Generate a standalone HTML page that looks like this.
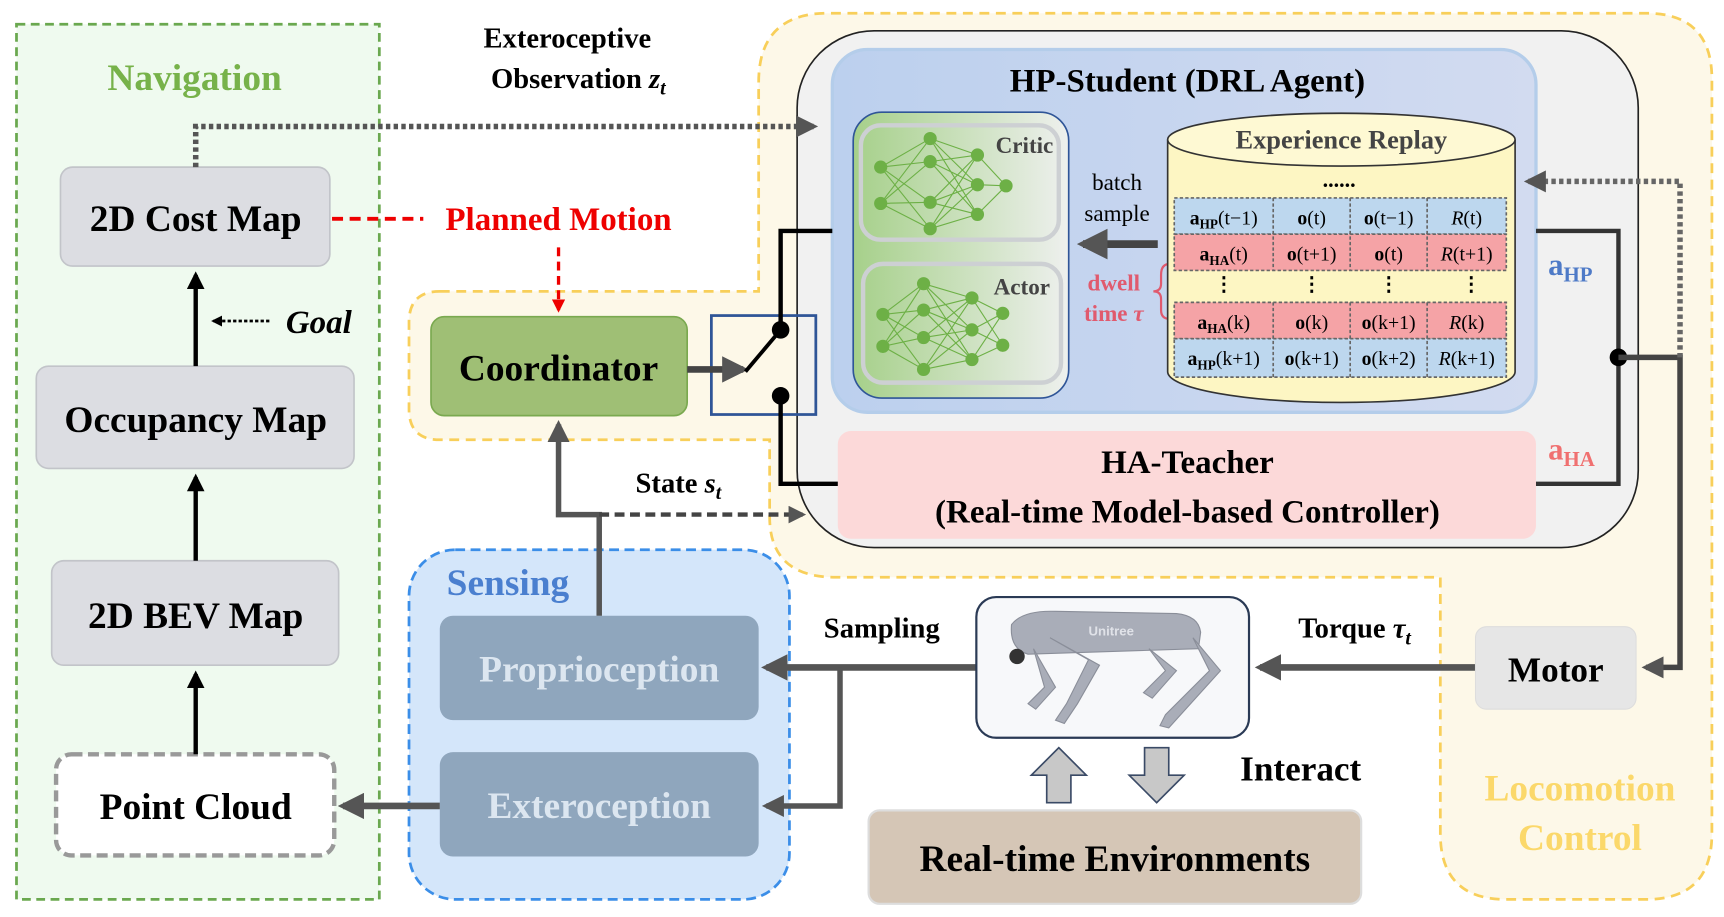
<!DOCTYPE html>
<html><head><meta charset="utf-8"><style>
html,body{margin:0;padding:0;background:#fff;}
svg{display:block;}
text{font-family:"Liberation Serif",serif;font-weight:bold;}
</style></head><body>
<svg width="1724" height="917" viewBox="0 0 1568 834" preserveAspectRatio="none" xmlns="http://www.w3.org/2000/svg">
<defs>
<marker id="ah" viewBox="0 0 10 10" refX="8" refY="5" markerWidth="4" markerHeight="4" orient="auto"><path d="M0,0L10,5L0,10z" fill="#555"/></marker>
<marker id="ahb" viewBox="0 0 10 10" refX="8" refY="5" markerWidth="4" markerHeight="4" orient="auto"><path d="M0,0L10,5L0,10z" fill="#000"/></marker>
<marker id="ahr" viewBox="0 0 10 10" refX="8" refY="5" markerWidth="4" markerHeight="4" orient="auto"><path d="M0,0L10,5L0,10z" fill="#e00"/></marker>
<linearGradient id="gnn" x1="0" x2="1"><stop offset="0" stop-color="#a6d08a"/><stop offset="1" stop-color="#eef0ee"/></linearGradient>
<linearGradient id="ghp" x1="0" x2="1"><stop offset="0" stop-color="#bcd0ee"/><stop offset="1" stop-color="#d2dbf0"/></linearGradient>
</defs>

<rect x="15" y="22" width="330" height="796" fill="#effaef" stroke="#6aa84f" stroke-width="2.5" stroke-dasharray="8 5"/>
<text x="177" y="82" font-size="34" fill="#77b24a" text-anchor="middle">Navigation</text>

<path d="M400,265 L690,265 L690,75 Q690,12 753,12 L1497,12 Q1557,12 1557,72 L1557,758 Q1557,818 1497,818 L1370,818 Q1310,818 1310,758 L1310,525 L760,525 Q700,525 700,470 L700,400 L400,400 Q372,400 372,372 L372,293 Q372,265 400,265 Z" fill="#fdf8e8" stroke="#f8cf5a" stroke-width="2.5" stroke-dasharray="9 6"/>
<text x="1437" y="728" font-size="34" fill="#fbd86a" text-anchor="middle">Locomotion</text>
<text x="1437" y="773" font-size="34" fill="#fbd86a" text-anchor="middle">Control</text>

<rect x="725" y="28" width="765" height="470" rx="70" fill="#f1f1f1" stroke="#222" stroke-width="1.5"/>
<rect x="757" y="45" width="640" height="330" rx="32" fill="url(#ghp)" stroke="#b4cdea" stroke-width="3"/>
<text x="1080" y="83" font-size="30" text-anchor="middle">HP-Student (DRL Agent)</text>

<rect x="776" y="102" width="196" height="260" rx="26" fill="url(#gnn)" stroke="#2f5597" stroke-width="1.5"/>
<rect x="783" y="114" width="180" height="104" rx="18" fill="none" stroke="#cdd0d3" stroke-width="4"/>
<rect x="785" y="240" width="180" height="108" rx="18" fill="none" stroke="#cdd0d3" stroke-width="4"/>
<text x="958" y="139" font-size="21" fill="#444" text-anchor="end">Critic</text>
<text x="955" y="268" font-size="21" fill="#444" text-anchor="end">Actor</text>
<g stroke="#6db046" stroke-width="1">
<path d="M801,152L846,126M801,152L846,147M801,152L846,184M801,152L846,208M801,185L846,126M801,185L846,147M801,185L846,184M801,185L846,208M846,126L889,141M846,126L889,168M846,126L889,195M846,147L889,141M846,147L889,168M846,147L889,195M846,184L889,141M846,184L889,168M846,184L889,195M846,208L889,141M846,208L889,168M846,208L889,195M889,141L915,169M889,168L915,169M889,195L915,169"/>
<path d="M803,286L840,258M803,286L840,282M803,286L840,307M803,286L840,336M803,315L840,258M803,315L840,282M803,315L840,307M803,315L840,336M840,258L884,271M840,258L884,300M840,258L884,327M840,282L884,271M840,282L884,300M840,282L884,327M840,307L884,271M840,307L884,300M840,307L884,327M840,336L884,271M840,336L884,300M840,336L884,327M884,271L912,285M884,271L912,314M884,300L912,285M884,300L912,314M884,327L912,285M884,327L912,314"/>
</g>
<g fill="#6db046">
<circle cx="801" cy="152" r="6"/><circle cx="801" cy="185" r="6"/><circle cx="846" cy="126" r="6"/><circle cx="846" cy="147" r="6"/><circle cx="846" cy="184" r="6"/><circle cx="846" cy="208" r="6"/><circle cx="889" cy="141" r="6"/><circle cx="889" cy="168" r="6"/><circle cx="889" cy="195" r="6"/><circle cx="915" cy="169" r="6"/>
<circle cx="803" cy="286" r="6"/><circle cx="803" cy="315" r="6"/><circle cx="840" cy="258" r="6"/><circle cx="840" cy="282" r="6"/><circle cx="840" cy="307" r="6"/><circle cx="840" cy="336" r="6"/><circle cx="884" cy="271" r="6"/><circle cx="884" cy="300" r="6"/><circle cx="884" cy="327" r="6"/><circle cx="912" cy="285" r="6"/><circle cx="912" cy="314" r="6"/>
</g>

<text x="1016" y="173" font-size="21" style="font-weight:normal" text-anchor="middle">batch</text>
<text x="1016" y="201" font-size="21" style="font-weight:normal" text-anchor="middle">sample</text>
<line x1="1053" y1="222" x2="985" y2="222" stroke="#444" stroke-width="7" marker-end="url(#ah)"/>
<text x="1013" y="264" font-size="21" fill="#e05a6e" text-anchor="middle">dwell</text>
<text x="1013" y="292" font-size="21" fill="#e05a6e" text-anchor="middle">time <tspan font-style="italic">τ</tspan></text>
<path d="M1064,240 Q1056,240 1056,250 L1056,258 Q1056,265 1049,265 Q1056,265 1056,272 L1056,282 Q1056,290 1064,290" fill="none" stroke="#e05a6e" stroke-width="2"/>

<path d="M1062,127 L1062,338 A158,28 0 0 0 1378,338 L1378,127" fill="#fdf6c3" stroke="#333" stroke-width="1.5"/>
<ellipse cx="1220" cy="127" rx="158" ry="24" fill="#fef9d3" stroke="#333" stroke-width="1.5"/>
<text x="1220" y="135" font-size="24" fill="#444" text-anchor="middle">Experience Replay</text>
<text x="1218" y="170" font-size="20" text-anchor="middle">......</text>
<g stroke="#666" stroke-width="1.5" stroke-dasharray="3 2">
<rect x="1068" y="180" width="302" height="33" fill="#bdd7ee"/>
<rect x="1068" y="213" width="302" height="33" fill="#f5a3a6"/>
<rect x="1068" y="275" width="302" height="33" fill="#f5a3a6"/>
<rect x="1068" y="308" width="302" height="35" fill="#bdd7ee"/>
<path d="M1158,180V246M1228,180V246M1298,180V246M1158,275V343M1228,275V343M1298,275V343" fill="none"/>
</g>
<g font-size="18" text-anchor="middle">
<text x="1113" y="204" style="font-weight:normal"><tspan font-weight="bold">a</tspan><tspan font-size="12" dy="4" font-weight="bold">HP</tspan><tspan dy="-4">(t−1)</tspan></text>
<text x="1193" y="204" style="font-weight:normal"><tspan font-weight="bold">o</tspan>(t)</text>
<text x="1263" y="204" style="font-weight:normal"><tspan font-weight="bold">o</tspan>(t−1)</text>
<text x="1334" y="204" style="font-weight:normal"><tspan font-style="italic">R</tspan>(t)</text>
<text x="1113" y="237" style="font-weight:normal"><tspan font-weight="bold">a</tspan><tspan font-size="12" dy="4" font-weight="bold">HA</tspan><tspan dy="-4">(t)</tspan></text>
<text x="1193" y="237" style="font-weight:normal"><tspan font-weight="bold">o</tspan>(t+1)</text>
<text x="1263" y="237" style="font-weight:normal"><tspan font-weight="bold">o</tspan>(t)</text>
<text x="1334" y="237" style="font-weight:normal"><tspan font-style="italic">R</tspan>(t+1)</text>
<text x="1113" y="264">⋮</text><text x="1193" y="264">⋮</text><text x="1263" y="264">⋮</text><text x="1338" y="264">⋮</text>
<text x="1113" y="299" style="font-weight:normal"><tspan font-weight="bold">a</tspan><tspan font-size="12" dy="4" font-weight="bold">HA</tspan><tspan dy="-4">(k)</tspan></text>
<text x="1193" y="299" style="font-weight:normal"><tspan font-weight="bold">o</tspan>(k)</text>
<text x="1263" y="299" style="font-weight:normal"><tspan font-weight="bold">o</tspan>(k+1)</text>
<text x="1334" y="299" style="font-weight:normal"><tspan font-style="italic">R</tspan>(k)</text>
<text x="1113" y="332" style="font-weight:normal"><tspan font-weight="bold">a</tspan><tspan font-size="12" dy="4" font-weight="bold">HP</tspan><tspan dy="-4">(k+1)</tspan></text>
<text x="1193" y="332" style="font-weight:normal"><tspan font-weight="bold">o</tspan>(k+1)</text>
<text x="1263" y="332" style="font-weight:normal"><tspan font-weight="bold">o</tspan>(k+2)</text>
<text x="1334" y="332" style="font-weight:normal"><tspan font-style="italic">R</tspan>(k+1)</text>
</g>

<rect x="762" y="392" width="635" height="98" rx="12" fill="#fcd9d9"/>
<text x="1080" y="430" font-size="30" text-anchor="middle">HA-Teacher</text>
<text x="1080" y="475" font-size="30" text-anchor="middle">(Real-time Model-based Controller)</text>

<text x="1408" y="250" font-size="28" fill="#4e7ac7">a<tspan font-size="19" dy="6">HP</tspan></text>
<text x="1408" y="418" font-size="28" fill="#f07070">a<tspan font-size="19" dy="6">HA</tspan></text>

<path d="M1397,210 H1472 V440 H1397" fill="none" stroke="#333" stroke-width="4"/>
<circle cx="1472" cy="325" r="8" fill="#000"/>
<path d="M1472,325 H1528 V607 H1497" fill="none" stroke="#444" stroke-width="5" marker-end="url(#ah)"/>
<path d="M1528,325 V165 H1390" fill="none" stroke="#666" stroke-width="5" stroke-dasharray="4 3" marker-end="url(#ah)"/>

<rect x="392" y="288" width="233" height="90" rx="12" fill="#9fbf75" stroke="#7aa94f" stroke-width="1.5"/>
<text x="508" y="346" font-size="34" text-anchor="middle">Coordinator</text>
<rect x="647" y="287" width="95" height="90" fill="none" stroke="#2f5597" stroke-width="2.5"/>
<line x1="625" y1="336" x2="676" y2="336" stroke="#444" stroke-width="6" marker-end="url(#ah)"/>
<line x1="678" y1="338" x2="710" y2="300" stroke="#000" stroke-width="3.5"/>
<path d="M710,300 V210 H757" fill="none" stroke="#000" stroke-width="4"/>
<path d="M710,360 V440 H762" fill="none" stroke="#000" stroke-width="4"/>
<circle cx="710" cy="300" r="8" fill="#000"/>
<circle cx="710" cy="360" r="8" fill="#000"/>

<rect x="55" y="152" width="245" height="90" rx="11" fill="#dcdde2" stroke="#c2c4c9" stroke-width="1.5"/>
<text x="178" y="210" font-size="34" text-anchor="middle">2D Cost Map</text>
<rect x="33" y="333" width="289" height="93" rx="11" fill="#dcdde2" stroke="#c2c4c9" stroke-width="1.5"/>
<text x="178" y="393" font-size="34" text-anchor="middle">Occupancy Map</text>
<rect x="47" y="510" width="261" height="95" rx="11" fill="#dcdde2" stroke="#c2c4c9" stroke-width="1.5"/>
<text x="178" y="571" font-size="34" text-anchor="middle">2D BEV Map</text>
<rect x="51" y="686" width="253" height="92" rx="14" fill="#fff" stroke="#999" stroke-width="4" stroke-dasharray="10 5"/>
<text x="178" y="745" font-size="34" text-anchor="middle">Point Cloud</text>
<g stroke="#000" stroke-width="4">
<line x1="178" y1="686" x2="178" y2="613" marker-end="url(#ahb)"/>
<line x1="178" y1="510" x2="178" y2="434" marker-end="url(#ahb)"/>
<line x1="178" y1="333" x2="178" y2="250" marker-end="url(#ahb)"/>
</g>
<line x1="245" y1="292" x2="194" y2="292" stroke="#000" stroke-width="2.5" stroke-dasharray="3 2" marker-end="url(#ahb)"/>
<text x="260" y="303" font-size="30" font-style="italic">Goal</text>

<path d="M178,152 V115 H740" fill="none" stroke="#555" stroke-width="5" stroke-dasharray="4 3" marker-end="url(#ah)"/>
<text x="516" y="43" font-size="26" text-anchor="middle">Exteroceptive</text>
<text x="526" y="80" font-size="26" text-anchor="middle">Observation <tspan font-style="italic">z</tspan><tspan font-size="18" font-style="italic" dy="6">t</tspan></text>

<line x1="302" y1="199" x2="385" y2="199" stroke="#e00" stroke-width="3.5" stroke-dasharray="10 6"/>
<text x="508" y="209" font-size="30" fill="#e00" text-anchor="middle">Planned Motion</text>
<line x1="508" y1="225" x2="508" y2="282" stroke="#e00" stroke-width="3" stroke-dasharray="8 5" marker-end="url(#ahr)"/>

<rect x="372" y="500" width="346" height="318" rx="42" fill="#d4e6fa" stroke="#3b8ee8" stroke-width="2.5" stroke-dasharray="9 5"/>
<text x="462" y="541" font-size="34" fill="#4a7fcf" text-anchor="middle">Sensing</text>
<rect x="400" y="560" width="290" height="95" rx="12" fill="#8fa6bd"/>
<text x="545" y="620" font-size="34" fill="#dce6f0" text-anchor="middle">Proprioception</text>
<rect x="400" y="684" width="290" height="95" rx="12" fill="#8fa6bd"/>
<text x="545" y="744" font-size="34" fill="#dce6f0" text-anchor="middle">Exteroception</text>
<line x1="400" y1="733" x2="312" y2="733" stroke="#555" stroke-width="6" marker-end="url(#ah)"/>

<path d="M545,560 V468 H508 V386" fill="none" stroke="#555" stroke-width="5" marker-end="url(#ah)"/>
<line x1="545" y1="468" x2="730" y2="468" stroke="#444" stroke-width="4" stroke-dasharray="9 5" marker-end="url(#ah)"/>
<text x="617" y="448" font-size="26" text-anchor="middle">State <tspan font-style="italic">s</tspan><tspan font-size="18" font-style="italic" dy="6">t</tspan></text>

<line x1="888" y1="607" x2="697" y2="607" stroke="#555" stroke-width="6" marker-end="url(#ah)"/>
<path d="M764,607 V733 H697" fill="none" stroke="#555" stroke-width="5" marker-end="url(#ah)"/>
<text x="802" y="580" font-size="26" text-anchor="middle">Sampling</text>
<line x1="1342" y1="607" x2="1146" y2="607" stroke="#555" stroke-width="6" marker-end="url(#ah)"/>
<text x="1232" y="580" font-size="26" text-anchor="middle">Torque <tspan font-style="italic">τ</tspan><tspan font-size="18" font-style="italic" dy="6">t</tspan></text>
<rect x="888" y="543" width="248" height="128" rx="18" fill="#f7f8fa" stroke="#2a3a55" stroke-width="2"/>
<g fill="#a9adb8" stroke="#8a8e99" stroke-width="1">
<path d="M920,568 Q930,555 960,556 L1070,558 Q1090,560 1092,575 L1090,590 L935,595 Q918,590 920,568 Z"/>
<path d="M955,580 L990,600 L970,640 L960,655 L968,658 L980,640 L1000,605 Z"/>
<path d="M940,590 L950,625 L935,640 L942,645 L960,625 Z"/>
<path d="M1085,580 L1100,610 L1060,650 L1055,660 L1063,662 L1110,610 Z"/>
<path d="M1045,590 L1060,610 L1040,630 L1048,635 L1070,610 Z"/>
</g>
<text x="990" y="578" font-size="12" fill="#e0e2e8" style="font-family:'Liberation Sans',sans-serif">Unitree</text>
<circle cx="925" cy="597" r="7" fill="#333"/>

<path d="M952,730 V705 H938 L963,680 L988,705 H974 V730 Z" fill="#c8c8c8" stroke="#3a4a66" stroke-width="1.5"/>
<path d="M1041,680 V705 H1027 L1052,730 L1077,705 H1063 V680 Z" fill="#c8c8c8" stroke="#3a4a66" stroke-width="1.5"/>
<text x="1183" y="710" font-size="32" text-anchor="middle">Interact</text>
<rect x="790" y="737" width="448" height="85" rx="10" fill="#d5c6b6" stroke="#ddd" stroke-width="2"/>
<text x="1014" y="792" font-size="34" text-anchor="middle">Real-time Environments</text>

<rect x="1342" y="570" width="146" height="75" rx="10" fill="#e6e6e6" stroke="#ddd"/>
<text x="1415" y="620" font-size="32" text-anchor="middle">Motor</text>
</svg>
</body></html>
